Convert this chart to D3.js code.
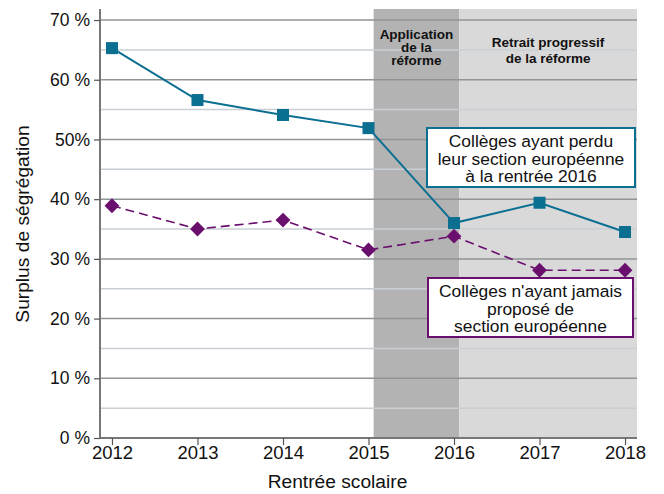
<!DOCTYPE html>
<html>
<head>
<meta charset="utf-8">
<script src="https://cdn.jsdelivr.net/npm/d3@7"></script>
<style>
  body { margin: 0; background: #fff; }
  text { font-family: "Liberation Sans", Arial, sans-serif; fill: #111; }
</style>
</head>
<body>
<div id="chart"></div>
<script>
const years = [2012, 2013, 2014, 2015, 2016, 2017, 2018];
const perdu = [65.3, 56.6, 54.1, 51.9, 36.0, 39.4, 34.5];
const jamais = [38.9, 35.0, 36.5, 31.5, 33.8, 28.1, 28.1];
const yTicks = [0, 10, 20, 30, 40, 50, 60, 70];
const yTickLabels = ["0 %", "10 %", "20 %", "30 %", "40 %", "50%", "60 %", "70 %"];
const minorTicks = [5, 15, 25, 35, 45, 55, 65];
const periods = [
  { from: 2015.06, to: 2016.06, label: ["Application", "de la", "réforme"], fill: "#b3b3b3", y0: 39, lh: 12.8 },
  { from: 2016.06, to: 2018.14, label: ["Retrait progressif", "de la réforme"], fill: "#d9d9d9", y0: 47, lh: 15.5 }
];

const width = 664, height = 494;
const mLeft = 100, mRight = 637, mTop = 9, mBottom = 438;

const svg = d3.select("#chart").append("svg")
    .attr("width", width)
    .attr("height", height);

const x = d3.scaleLinear().domain([2011.86, 2018.14]).range([mLeft, mRight]);
const y = d3.scaleLinear().domain([0, 71.85]).range([mBottom, mTop]);

// bands
svg.selectAll(".band")
  .data(periods)
  .enter().append("rect")
    .attr("class", "band")
    .attr("x", d => x(d.from))
    .attr("width", d => x(d.to) - x(d.from))
    .attr("y", mTop)
    .attr("height", mBottom - mTop)
    .attr("fill", d => d.fill);

// grid
svg.selectAll(".minor")
  .data(minorTicks)
  .enter().append("line")
    .attr("x1", mLeft).attr("x2", mRight)
    .attr("y1", d => y(d)).attr("y2", d => y(d))
    .attr("stroke", "#c9cfd4").attr("stroke-width", 1.5);

svg.selectAll(".major")
  .data(yTicks.slice(1))
  .enter().append("line")
    .attr("x1", mLeft).attr("x2", mRight)
    .attr("y1", d => y(d)).attr("y2", d => y(d))
    .attr("stroke", "#8f9496").attr("stroke-width", 1.5);

// band labels
periods.forEach(p => {
  const cx = (x(p.from) + x(p.to)) / 2;
  const t = svg.append("text")
      .attr("x", cx)
      .attr("y", p.y0)
      .attr("text-anchor", "middle")
      .style("font-size", "13.5px")
      .style("font-weight", "bold");
  p.label.forEach((l, i) => {
    t.append("tspan").attr("x", cx).attr("dy", i === 0 ? 0 : p.lh).text(l);
  });
});

// axes
const yAxis = svg.append("g")
    .attr("transform", "translate(" + mLeft + ",0)")
    .call(d3.axisLeft(y).tickValues(yTicks).tickFormat((d, i) => yTickLabels[i]).tickSize(6).tickPadding(4));
yAxis.select(".domain").attr("d", "M0," + mTop + "V" + mBottom);

const xAxis = svg.append("g")
    .attr("transform", "translate(0," + mBottom + ")")
    .call(d3.axisBottom(x).tickValues(years).tickFormat(d3.format("d")).tickSize(7).tickPadding(1));
xAxis.select(".domain").attr("d", "M" + mLeft + ",0H" + mRight);

svg.selectAll(".domain").attr("stroke", "#777").attr("stroke-width", 2);
svg.selectAll(".tick line").attr("stroke", "#555").attr("stroke-width", 1.2);
yAxis.selectAll("text").style("font-size", "17.5px").attr("fill", "#111");
xAxis.selectAll("text").style("font-size", "18.5px").attr("fill", "#111");

// axis titles
svg.append("text")
    .attr("x", 337.5)
    .attr("y", 488)
    .attr("text-anchor", "middle")
    .style("font-size", "19.2px")
    .text("Rentrée scolaire");

svg.append("text")
    .attr("transform", "translate(29," + 224 + ") rotate(-90)")
    .attr("text-anchor", "middle")
    .style("font-size", "19.2px")
    .text("Surplus de ségrégation");

// lines
const line = d3.line().x((d, i) => x(years[i])).y(d => y(d));

svg.append("path")
    .datum(jamais)
    .attr("d", line)
    .attr("fill", "none")
    .attr("stroke", "#6b0f6f")
    .attr("stroke-width", 1.6)
    .attr("stroke-dasharray", "9,5");

svg.selectAll(".diamond")
  .data(jamais)
  .enter().append("path")
    .attr("d", d3.symbol().type(d3.symbolDiamond2).size(140))
    .attr("transform", (d, i) => "translate(" + x(years[i]) + "," + y(d) + ")")
    .attr("fill", "#6b0f6f");

svg.append("path")
    .datum(perdu)
    .attr("d", line)
    .attr("fill", "none")
    .attr("stroke", "#0b6f92")
    .attr("stroke-width", 2);

svg.selectAll(".square")
  .data(perdu)
  .enter().append("rect")
    .attr("x", (d, i) => x(years[i]) - 6)
    .attr("y", d => y(d) - 6)
    .attr("width", 12)
    .attr("height", 12)
    .attr("fill", "#0b6f92");

// callouts
function callout(x0, y0, w, h, color, lines) {
  svg.append("rect")
      .attr("x", x0).attr("y", y0).attr("width", w).attr("height", h)
      .attr("fill", "#fff").attr("stroke", color).attr("stroke-width", 2);
  const t = svg.append("text")
      .attr("text-anchor", "middle")
      .attr("y", y0 + 19)
      .style("font-size", "17.4px");
  lines.forEach((l, i) => {
    t.append("tspan").attr("x", x0 + w / 2).attr("dy", i === 0 ? 0 : 17.6).text(l);
  });
}

callout(427, 128, 208, 59, "#0b6f92", ["Collèges ayant perdu", "leur section européenne", "à la rentrée 2016"]);
callout(428, 278, 205, 59, "#6b0f6f", ["Collèges n'ayant jamais", "proposé de", "section européenne"]);
</script>
</body>
</html>
